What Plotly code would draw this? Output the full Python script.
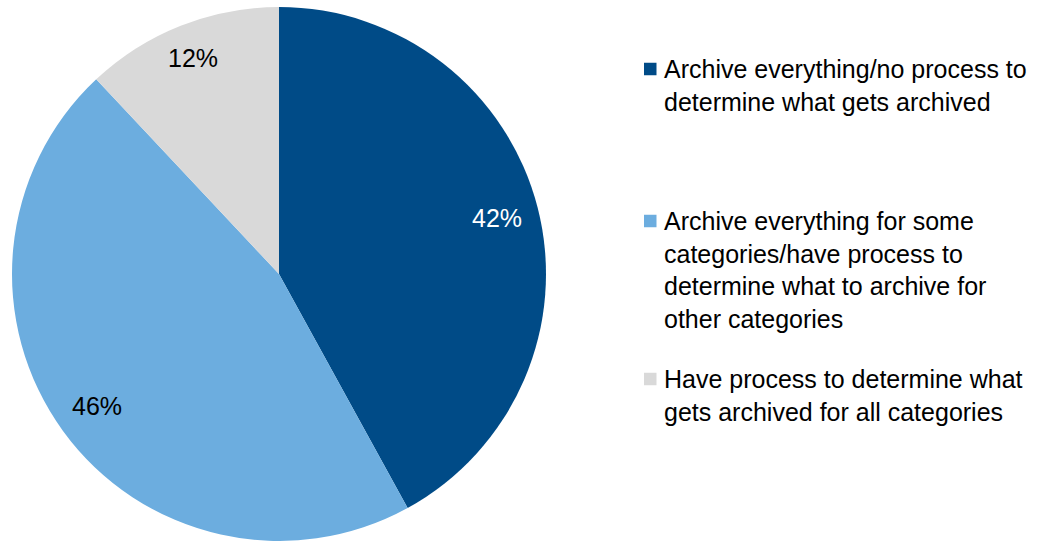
import math
import plotly.graph_objects as go

# Survey answers and their shares (percent)
categories = [
    "Archive everything/no process to<br>determine what gets archived",
    "Archive everything for some<br>categories/have process to<br>determine what to archive for<br>other categories",
    "Have process to determine what<br>gets archived for all categories",
]
shares = [42, 46, 12]
label_texts = ["42%", "46%", "12%"]
slice_colors = ["#004B87", "#6CADDF", "#D9D9D9"]
label_colors = ["#FFFFFF", "#000000", "#000000"]

W, H = 1060, 541
cx, cy, R = 279, 274, 267
FONT = "Arial, Liberation Sans, sans-serif"
FS = 25
LINE_H = FS * 1.3

fig = go.Figure()
fig.add_trace(go.Pie(
    labels=[c.replace("<br>", " ") for c in categories],
    values=shares,
    sort=False,
    direction="clockwise",
    rotation=0,
    marker=dict(colors=slice_colors, line=dict(width=0)),
    textinfo="none",
    hoverinfo="label+percent",
    showlegend=False,
    domain=dict(x=[(cx - R) / W, (cx + R) / W], y=[1 - (cy + R) / H, 1 - (cy - R) / H]),
))

# Percent labels placed near the outer edge of each slice
total = sum(shares)
start = 0.0
hw, hh, r_edge = 26, 12, 253
for val, txt, col in zip(shares, label_texts, label_colors):
    mid = (start + val / 2) / total * 2 * math.pi
    s, c = math.sin(mid), math.cos(mid)
    r = r_edge - (hw * abs(s) + hh * abs(c))
    px, py = cx + r * s, cy - r * c
    fig.add_annotation(
        x=px / W, y=1 - py / H, xref="paper", yref="paper",
        text=txt, showarrow=False,
        font=dict(family=FONT, size=FS, color=col),
        xanchor="center", yanchor="middle",
    )
    start += val

# Legend on the right: colour square + wrapped category text
first_line_y = [69, 221, 379]   # vertical centre of each entry's first line (px)
sq = 12.5
sq_x0, text_x = 644, 662
for cat, col, y0 in zip(categories, slice_colors, first_line_y):
    fig.add_shape(
        type="rect", xref="paper", yref="paper",
        x0=sq_x0 / W, x1=(sq_x0 + sq) / W,
        y0=1 - (y0 + sq / 2) / H, y1=1 - (y0 - sq / 2) / H,
        fillcolor=col, line=dict(width=0),
    )
    n_lines = cat.count("<br>") + 1
    yc = y0 + (n_lines - 1) * LINE_H / 2
    fig.add_annotation(
        x=text_x / W, y=1 - yc / H, xref="paper", yref="paper",
        text=cat, showarrow=False, align="left",
        font=dict(family=FONT, size=FS, color="#000000"),
        xanchor="left", yanchor="middle",
    )

fig.update_layout(
    width=W, height=H,
    margin=dict(l=0, r=0, t=0, b=0),
    paper_bgcolor="white",
    plot_bgcolor="white",
)

fig.write_html("out.html")
